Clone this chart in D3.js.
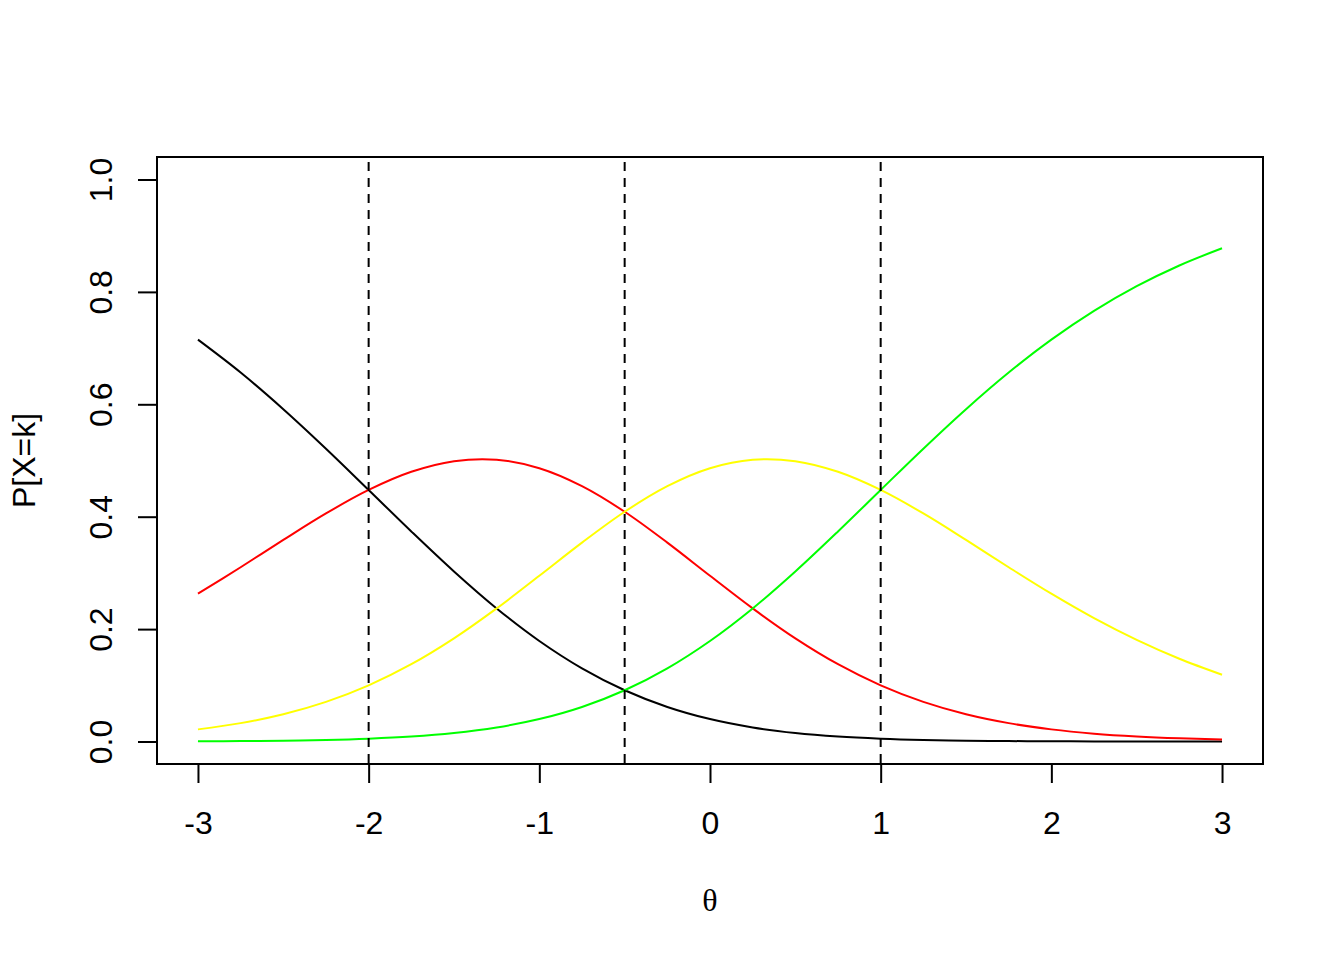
<!DOCTYPE html>
<html>
<head>
<meta charset="utf-8">
<script src="https://cdn.jsdelivr.net/npm/d3@7"></script>
<style>
  html, body { margin: 0; padding: 0; background: #fff; }
  svg { display: block; }
</style>
</head>
<body>
<svg id="chart" width="1344" height="960"></svg>
<script>
// ---- data ----
const theta = [-3, -2.75, -2.5, -2.25, -2, -1.75, -1.5, -1.25, -1, -0.75, -0.5, -0.25,
               0, 0.25, 0.5, 0.75, 1, 1.25, 1.5, 1.75, 2, 2.25, 2.5, 2.75, 3];
const pCat0 = [0.7150, 0.6565, 0.5913, 0.5210, 0.4476, 0.3738, 0.3026, 0.2368, 0.1789, 0.1302, 0.0912, 0.0615,
               0.0399, 0.0250, 0.0151, 0.0088, 0.0050, 0.0027, 0.0015, 0.0008, 0.0004, 0.0002, 0.0001, 0.0001, 0.0000];
const pCat1 = [0.2630, 0.3101, 0.3587, 0.4058, 0.4476, 0.4799, 0.4988, 0.5014, 0.4863, 0.4544, 0.4088, 0.3539,
               0.2949, 0.2368, 0.1835, 0.1375, 0.0999, 0.0705, 0.0485, 0.0327, 0.0216, 0.0140, 0.0090, 0.0057, 0.0036];
const pCat2 = [0.0216, 0.0327, 0.0485, 0.0705, 0.0999, 0.1375, 0.1835, 0.2368, 0.2949, 0.3539, 0.4088, 0.4544,
               0.4863, 0.5014, 0.4988, 0.4799, 0.4476, 0.4058, 0.3587, 0.3101, 0.2630, 0.2195, 0.1808, 0.1472, 0.1188];
const pCat3 = [0.0004, 0.0008, 0.0015, 0.0027, 0.0050, 0.0088, 0.0151, 0.0250, 0.0399, 0.0615, 0.0912, 0.1302,
               0.1789, 0.2368, 0.3026, 0.3738, 0.4476, 0.5210, 0.5913, 0.6565, 0.7150, 0.7662, 0.8101, 0.8470, 0.8776];
const seriesColors = ["#000000", "#FF0000", "#FFFF00", "#00FF00"];
const thresholds = [-2, -0.5, 1];
const xTicks = [-3, -2, -1, 0, 1, 2, 3];
const yTicks = [0, 0.2, 0.4, 0.6, 0.8, 1.0];
const xLabel = "θ";
const yLabel = "P[X=k]";

// ---- layout ----
const box = { left: 157, right: 1263, top: 157, bottom: 764 };
const svg = d3.select("#chart");

const x = d3.scaleLinear().domain([-3.24, 3.24]).range([box.left, box.right]);
const y = d3.scaleLinear().domain([-0.04, 1.04]).range([box.bottom, box.top]);

const clipId = "plotclip";
svg.append("defs").append("clipPath").attr("id", clipId)
  .append("rect").attr("x", box.left).attr("y", box.top)
  .attr("width", box.right - box.left).attr("height", box.bottom - box.top);

// curves
const series = [pCat0, pCat1, pCat2, pCat3];
const line = d3.line()
  .x((d, i) => x(theta[i]))
  .y(d => y(d))
  .curve(d3.curveCatmullRom.alpha(0.5));

const plotG = svg.append("g").attr("clip-path", `url(#${clipId})`);
series.forEach((s, k) => {
  plotG.append("path")
    .attr("d", line(s))
    .attr("fill", "none")
    .attr("stroke", seriesColors[k])
    .attr("stroke-width", 2)
    .attr("stroke-linejoin", "round");
});

// threshold lines
plotG.selectAll("line.thr").data(thresholds).enter().append("line")
  .attr("class", "thr")
  .attr("x1", d => x(d)).attr("x2", d => x(d))
  .attr("y1", box.top).attr("y2", box.bottom)
  .attr("stroke", "#000").attr("stroke-width", 2)
  .attr("stroke-dasharray", "9,7")
  .attr("stroke-dashoffset", -5);

// box
svg.append("rect")
  .attr("x", box.left).attr("y", box.top)
  .attr("width", box.right - box.left).attr("height", box.bottom - box.top)
  .attr("fill", "none").attr("stroke", "#000").attr("stroke-width", 2);

// x axis
const xAxis = d3.axisBottom(x).tickValues(xTicks).tickSize(19).tickPadding(0).tickFormat(d3.format("d"));
const gx = svg.append("g").attr("transform", `translate(0,${box.bottom})`).call(xAxis);
gx.select(".domain")
  .attr("d", `M${x(xTicks[0])},0H${x(xTicks[xTicks.length - 1])}`)
  .attr("stroke-width", 2);
gx.selectAll(".tick line").attr("stroke-width", 2);
gx.selectAll(".tick text")
  .attr("y", 70).attr("dy", null)
  .attr("font-family", "Liberation Sans, Arial, sans-serif")
  .attr("font-size", 32)
  .attr("fill", "#000")
  .text(d => d < 0 ? "-" + Math.abs(d) : String(d));

// y axis
const yAxis = d3.axisLeft(y).tickValues(yTicks).tickSize(19).tickPadding(0).tickFormat(d3.format(".1f"));
const gy = svg.append("g").attr("transform", `translate(${box.left},0)`).call(yAxis);
gy.select(".domain")
  .attr("d", `M0,${y(yTicks[0])}V${y(yTicks[yTicks.length - 1])}`)
  .attr("stroke-width", 2);
gy.selectAll(".tick line").attr("stroke-width", 2);
gy.selectAll(".tick text")
  .attr("x", null).attr("dy", null)
  .attr("text-anchor", "middle")
  .attr("transform", "translate(-45,0) rotate(-90)")
  .attr("font-family", "Liberation Sans, Arial, sans-serif")
  .attr("font-size", 32)
  .attr("fill", "#000");

// axis titles
svg.append("text")
  .attr("x", x(0)).attr("y", 911)
  .attr("text-anchor", "middle")
  .attr("font-family", "Liberation Serif, Times New Roman, serif")
  .attr("font-size", 32)
  .text(xLabel);

svg.append("text")
  .attr("transform", `translate(35,${(box.top + box.bottom) / 2}) rotate(-90)`)
  .attr("text-anchor", "middle")
  .attr("font-family", "Liberation Sans, Arial, sans-serif")
  .attr("font-size", 32)
  .text(yLabel);
</script>
</body>
</html>
